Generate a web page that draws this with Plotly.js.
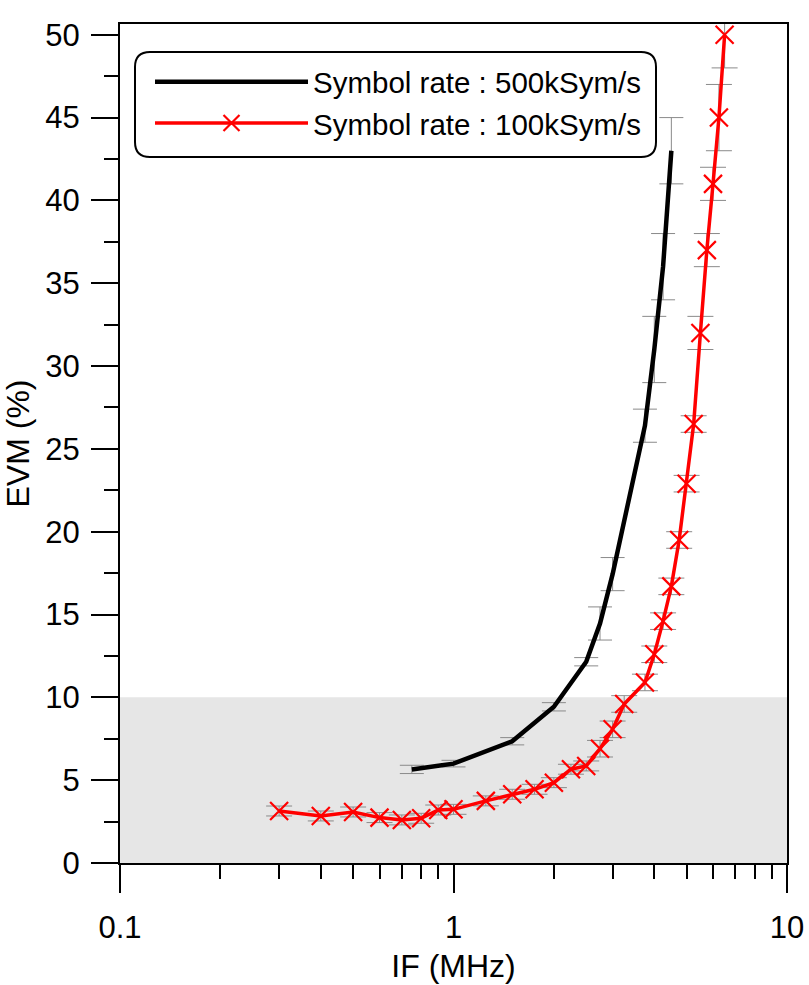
<!DOCTYPE html>
<html>
<head>
<meta charset="utf-8">
<script src="https://cdn.plot.ly/plotly-3.0.1.min.js"></script>
<style>
  html, body { margin: 0; padding: 0; background: #ffffff; }
  #chart { width: 809px; height: 985px; }
</style>
</head>
<body>
<div id="chart"></div>
<script>
// EVM vs IF for two symbol rates, log x axis, shaded acceptable zone.

const rateNames = ["Symbol rate : 500kSym/s", "Symbol rate : 100kSym/s"];

const if500 = [0.75, 1.0, 1.5, 2.0, 2.5, 2.75, 3.0, 3.75, 4.0, 4.25, 4.5];
const evm500 = [5.65, 6.0, 7.35, 9.43, 12.15, 14.46, 17.44, 26.4, 31.0, 36.0, 43.0];
const err500 = [0.25, 0.2, 0.22, 0.25, 0.25, 1, 1, 1, 2, 2, 2];

const if100 = [0.3, 0.4, 0.5, 0.6, 0.7, 0.8, 0.9, 1.0, 1.25, 1.5, 1.75, 2.0, 2.25, 2.5,
               2.75, 3.0, 3.25, 3.75, 4.0, 4.25, 4.5, 4.75, 5.0, 5.25, 5.5, 5.75, 6.0, 6.25, 6.5];
const evm100 = [3.14, 2.84, 3.08, 2.74, 2.6, 2.7, 3.2, 3.24, 3.75, 4.15, 4.45, 4.85, 5.66, 5.86,
                6.9, 8.07, 9.6, 10.9, 12.6, 14.6, 16.7, 19.5, 22.9, 26.5, 32, 37, 41, 45, 50];
const err100 = [0.3, 0.3, 0.3, 0.3, 0.3, 0.3, 0.3, 0.3, 0.3, 0.3, 0.3, 0.3, 0.3, 0.3,
                0.5, 0.5, 0.5, 0.5, 0.5, 0.5, 0.5, 0.5, 0.5, 0.5, 1, 1, 1, 2, 2];

const xTickVals = [0.1, 1, 10];
const xTickText = ["0.1", "1", "10"];
const xMinorTicks = [0.2, 0.3, 0.4, 0.5, 0.6, 0.7, 0.8, 0.9, 2, 3, 4, 5, 6, 7, 8, 9];
const evmLimit = 10;

const fontFamily = "Liberation Sans, Arial, sans-serif";

// plot area in pixels (for the rounded legend frame)
const plotL = 120, plotR = 787, plotT = 24, plotB = 863;
function px2x(px) { return (px - plotL) / (plotR - plotL); }
function py2y(py) { return (plotB - py) / (plotB - plotT); }

function roundedBox(l, t, r, b, rad) {
    const X = px2x, Y = py2y;
    return "M" + X(l + rad) + "," + Y(t) +
        " L" + X(r - rad) + "," + Y(t) +
        " Q" + X(r) + "," + Y(t) + " " + X(r) + "," + Y(t + rad) +
        " L" + X(r) + "," + Y(b - rad) +
        " Q" + X(r) + "," + Y(b) + " " + X(r - rad) + "," + Y(b) +
        " L" + X(l + rad) + "," + Y(b) +
        " Q" + X(l) + "," + Y(b) + " " + X(l) + "," + Y(b - rad) +
        " L" + X(l) + "," + Y(t + rad) +
        " Q" + X(l) + "," + Y(t) + " " + X(l + rad) + "," + Y(t) + " Z";
}

const trace500 = {
    x: if500,
    y: evm500,
    name: rateNames[0],
    mode: "lines",
    line: { color: "#000000", width: 4.5 },
    error_y: { type: "data", array: err500, visible: true, color: "#8a8a8a", thickness: 1, width: 12 },
    cliponaxis: false,
};

const trace100 = {
    x: if100,
    y: evm100,
    name: rateNames[1],
    mode: "lines+markers",
    line: { color: "#ff0000", width: 3.5 },
    marker: { symbol: "x-thin-open", size: 18, color: "#ff0000", line: { color: "#ff0000", width: 2.2 } },
    error_y: { type: "data", array: err100, visible: true, color: "#8a8a8a", thickness: 1, width: 13 },
    cliponaxis: false,
};

const layout = {
    width: 809,
    height: 985,
    paper_bgcolor: "#ffffff",
    plot_bgcolor: "#ffffff",
    font: { family: fontFamily, color: "#000000", size: 30 },
    margin: { l: plotL, r: 809 - plotR, t: plotT, b: 985 - plotB },
    showlegend: true,
    legend: {
        x: px2x(150),
        y: py2y(56),
        xanchor: "left",
        yanchor: "top",
        bgcolor: "rgba(0,0,0,0)",
        borderwidth: 0,
        itemwidth: 153,
        font: { family: fontFamily, size: 29.5, color: "#000000" },
    },
    xaxis: {
        type: "log",
        range: [-1, 1],
        tickmode: "array",
        tickvals: xTickVals,
        ticktext: xTickText,
        ticks: "outside",
        ticklen: 28,
        tickwidth: 2,
        tickcolor: "#000000",
        ticklabelstandoff: 8,
        tickfont: { size: 31 },
        showline: true,
        linecolor: "#000000",
        linewidth: 2,
        mirror: true,
        showgrid: false,
        zeroline: false,
        minor: {
            tickmode: "array",
            tickvals: xMinorTicks,
            ticks: "outside",
            ticklen: 14,
            tickwidth: 2,
            tickcolor: "#000000",
            showgrid: false,
        },
        title: { text: "IF (MHz)", font: { size: 32 }, standoff: 10 },
    },
    yaxis: {
        range: [0, 50.65],
        tick0: 0,
        dtick: 5,
        ticks: "outside",
        ticklen: 27,
        tickwidth: 2,
        tickcolor: "#000000",
        ticklabelstandoff: 5,
        tickfont: { size: 31 },
        showline: true,
        linecolor: "#000000",
        linewidth: 2,
        mirror: true,
        showgrid: false,
        zeroline: false,
        minor: {
            tick0: 0,
            dtick: 2.5,
            ticks: "outside",
            ticklen: 14,
            tickwidth: 2,
            tickcolor: "#000000",
            showgrid: false,
        },
        title: { text: "EVM (%)", font: { size: 32 }, standoff: 8 },
    },
    shapes: [
        {
            type: "rect",
            layer: "below",
            xref: "paper",
            yref: "y",
            x0: 0,
            x1: 1,
            y0: 0,
            y1: evmLimit,
            fillcolor: "#e6e6e6",
            line: { width: 0 },
        },
        {
            type: "path",
            layer: "above",
            xref: "paper",
            yref: "paper",
            path: roundedBox(135, 52, 656, 157, 15),
            fillcolor: "rgba(0,0,0,0)",
            line: { color: "#000000", width: 2 },
        },
    ],
};

const config = { staticPlot: true, displayModeBar: false };

Plotly.newPlot("chart", [trace500, trace100], layout, config);
</script>
</body>
</html>
